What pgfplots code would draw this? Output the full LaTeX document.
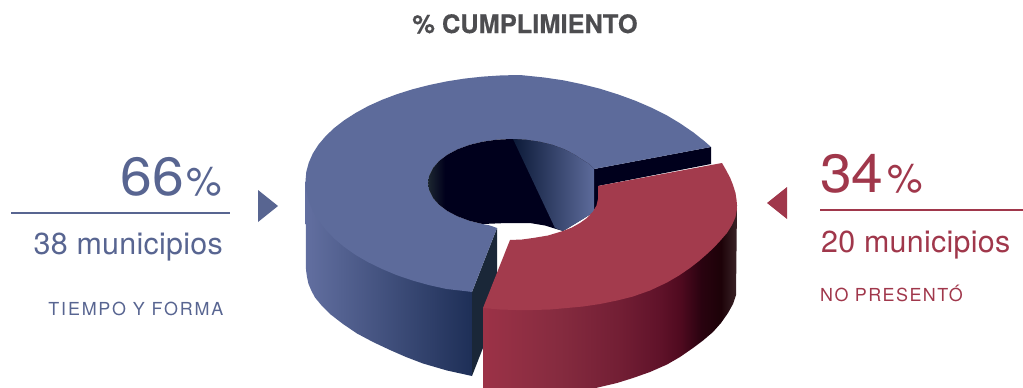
\documentclass[border=0pt]{standalone}
\usepackage{fontspec}
\setmainfont{TeX Gyre Heros}
\usepackage{pgfplots}
\pgfplotsset{compat=1.18}

\definecolor{bluetop}{RGB}{93,107,155}
\definecolor{redtop}{RGB}{163,59,77}
\definecolor{bluetext}{RGB}{88,101,145}
\definecolor{redtext}{RGB}{160,55,75}
\definecolor{titlegray}{RGB}{77,77,80}
\definecolor{navy}{RGB}{0,0,28}

\definecolor{ra}{RGB}{156,50,71}
\definecolor{rb}{RGB}{133,43,63}
\definecolor{rc}{RGB}{114,30,52}
\definecolor{rd}{RGB}{95,18,41}
\definecolor{re}{RGB}{79,10,31}
\definecolor{rf}{RGB}{42,3,16}
\definecolor{rg}{RGB}{29,2,8}
\definecolor{rh}{RGB}{58,35,39}
\definecolor{ba}{RGB}{98,111,160}
\definecolor{bb}{RGB}{30,47,87}
\definecolor{wa}{RGB}{28,38,48}
\definecolor{wb}{RGB}{12,26,56}

% box 0..100bp, path bbox lands on 25..75bp
\pgfdeclarehorizontalshading{redside}{100bp}{color(0bp)=(ra); color(25bp)=(ra); color(40.2bp)=(rb);
  color(52.1bp)=(rc); color(60bp)=(rd); color(63.9bp)=(re); color(67.9bp)=(rf); color(71.8bp)=(rg);
  color(75bp)=(rh); color(100bp)=(rh)}
\pgfdeclarehorizontalshading{holeleft}{100bp}{color(0bp)=(wa); color(25bp)=(wa); color(30.1bp)=(navy);
  color(100bp)=(navy)}

\newcommand{\fs}[1]{\fontsize{#1}{#1}\selectfont}

\begin{document}
\begin{tikzpicture}
\clip (0,0) rectangle (1023bp,388bp);
\begin{axis}[
    at={(0,0)},
    anchor=south west,
    scale only axis,
    width=1023bp,
    height=388bp,
    xmin=0, xmax=1023,
    ymin=0, ymax=388,
    y dir=reverse,
    hide axis,
    clip=true,
]
% blue outer side
\addplot[draw=none, left color=ba, right color=bb] coordinates {
(305.5,181) (472,292) (472,376) (447,370.5) (423,363.5) (406,357) (390,350) (373,342) (357,333.5) (343,324)
(330,314) (322,306) (315,297.5) (311.5,291) (308.5,284) (307,277) (306,270)
} --cycle;
% blue cut face, front
\addplot[draw=none, fill={rgb,255:red,26;green,39;blue,56}] coordinates {
(497,228) (472,292) (472,376) (497,312)
} --cycle;
% blue cut face, back
\addplot[draw=none, fill=navy] coordinates {
(594,169) (711,147) (711,164) (598,186) (598,205) (594,210)
} --cycle;
% blue top
\addplot[draw=none, fill=bluetop] coordinates {
(472,292) (464.4,291) (446.6,289) (429.3,285.2) (412.8,280.6) (396.9,275.2) (382.1,269) (368.3,262.3) (355.7,255)
(344.3,247) (334.2,238.5) (325.6,229.6) (318.4,220.3) (312.8,210.8) (308.8,201) (306.3,191) (305.5,181)
(306.3,171.8) (308.8,162.6) (312.8,153.5) (318.4,144.7) (325.6,136.2) (334.2,128) (344.3,120.2) (355.7,112.9)
(368.3,106) (382.1,99.8) (396.9,94.2) (412.8,89.2) (429.3,85) (446.6,81.4) (464.4,78.6) (482.7,76.6) (501.3,75.4)
(520,75) (544.2,77.5) (563.3,80.3) (582,84.2) (600.2,88.8) (618,94.4) (635,100.6) (651.3,107.6) (666.5,115.2)
(680.5,123.6) (693.5,132.5) (705.2,141.8) (711,147)
(594,169) (589,164) (582,159.5) (574.6,154.7) (564.4,149.3) (552.5,144.9) (539.4,141.7) (525.4,139.7) (511,139)
(496.6,139.7) (482.6,141.7) (469.5,144.9) (457.6,149.3) (447.4,154.7) (439.1,161) (433,168) (429.3,175.4) (428,183)
(429.3,190.6) (433,198) (439.1,204.8) (447.4,211) (457.6,216.4) (469.5,220.8) (482.6,224) (490,225.5) (497,228)
} --cycle;
% inner wall
\addplot[draw=none, shade, shading=holeleft] coordinates {
(594,169) (589,164) (582,159.5) (574.6,154.7) (564.4,149.3) (552.5,144.9) (539.4,141.7) (525.4,139.7) (511,139)
(496.6,139.7) (482.6,141.7) (469.5,144.9) (457.6,149.3) (447.4,154.7) (439.1,161) (433,168) (429.3,175.4) (428,183)
(429.3,190.6) (433,198) (439.1,204.8) (447.4,211) (457.6,216.4) (469.5,220.8) (482.6,224)
(507,223) (530,223) (545,225.5) (553,228) (563,231) (594,212)
} --cycle;
\addplot[draw=none, left color=wb, right color=bluetop] coordinates {
(513,139) (525.4,139.7) (539.4,141.7) (552.5,144.9) (564.4,149.3) (574.6,154.7) (582,159.5) (589,164) (594,169)
(594,212) (578,222) (563,231) (555,228)
} --cycle;
% red outer side
\addplot[draw=none, shade, shading=redside] coordinates {
(483,308) (737,205) (736,295) (733,304) (728,313) (721,323) (713,332) (703,340.5) (693,348) (680,357) (667,364.5)
(650,372) (633,378) (617,383) (600,387) (575,393) (483,393)
} --cycle;
% red top
\addplot[draw=none, fill=redtop] coordinates {
(483,308) (510,240) (522,239.5) (533,238) (548,235.5) (563,231) (572,227.5) (580,223) (587,218) (593,211.5)
(596.5,205.5) (598,199) (598,186) (722,163)
(726,170) (730,177.5) (733,185) (735.5,193) (736.7,201) (737,209) (735.5,217) (732,225) (727,233) (720,241) (714,247.5)
(707,254) (699,261) (690,268) (679,275.5) (667,282.5) (650,290.5) (633,296.5) (617,300.5) (600,304) (583,306.5)
(567,308) (550,309.5) (533,310) (516,310) (500,309.5)
} --cycle;
% rules and arrows beside the text
\addplot[bluetext, line width=2bp] coordinates {(11,212.5) (230,212.5)};
\addplot[redtext, line width=2bp] coordinates {(820,210) (1023,210)};
\addplot[draw=none, fill=bluetext] coordinates {(258,190) (258,222) (278,206)} --cycle;
\addplot[draw=none, fill=redtext] coordinates {(787,187) (787,219) (767,203)} --cycle;

\node[anchor=base, inner sep=0, text=titlegray] at (axis cs:525,33) {\addfontfeature{FakeBold=0.4}\fs{25.5}\bfseries\% CUMPLIMIENTO};

\node[anchor=base east, inner sep=0, text=bluetext] at (axis cs:222,195) {{\addfontfeature{FakeStretch=1.06}\fs{54}66}\kern2pt\fs{40}\%};
\node[anchor=base east, inner sep=0, text=bluetext] at (axis cs:223,254) {\addfontfeature{LetterSpace=1}\fs{30.5}38 municipios};
\node[anchor=base east, inner sep=0, text=bluetext] at (axis cs:223.5,315) {\addfontfeature{LetterSpace=10}\fs{18}TIEMPO Y FORMA};

\node[anchor=base west, inner sep=0, text=redtext] at (axis cs:820,192) {{\addfontfeature{FakeStretch=1.06}\fs{54}34}\kern4pt\fs{40}\%};
\node[anchor=base west, inner sep=0, text=redtext] at (axis cs:821,252) {\addfontfeature{LetterSpace=1}\fs{30.5}20 municipios};
\node[anchor=base west, inner sep=0, text=redtext] at (axis cs:820,301) {\addfontfeature{LetterSpace=8}\fs{18}NO PRESENTÓ};
\end{axis}
\end{tikzpicture}
\end{document}
